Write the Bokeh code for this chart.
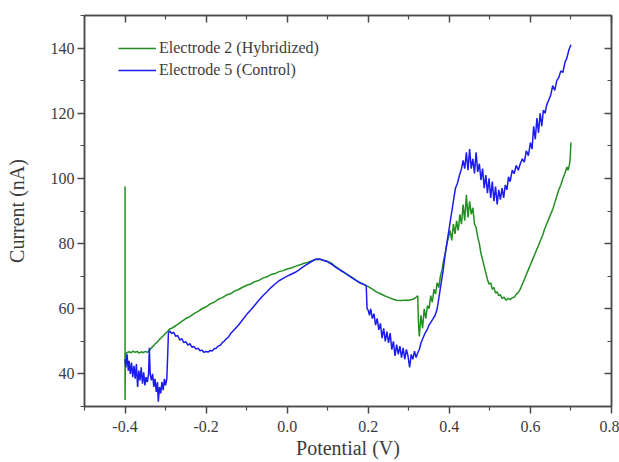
from bokeh.plotting import figure
from bokeh.models import (Range1d, LinearAxis, FixedTicker, PrintfTickFormatter,
                          Legend, LegendItem)
from bokeh.embed import file_html
from bokeh.resources import INLINE

# ---------------- data ----------------
x_ticks = [-0.4, -0.2, 0.0, 0.2, 0.4, 0.6, 0.8]
x_minor = [-0.5, -0.3, -0.1, 0.1, 0.3, 0.5, 0.7]
y_ticks = [40, 60, 80, 100, 120, 140]
y_minor = [30, 50, 70, 90, 110, 130, 150]

series_names = ["Electrode 2 (Hybridized)", "Electrode 5 (Control)"]

e2_x = [-0.400, -0.400, -0.399, -0.396,
        -0.39, -0.385, -0.38, -0.375, -0.37, -0.365, -0.36, -0.355, -0.35, -0.345,
        -0.34, -0.335, -0.33, -0.325, -0.32, -0.315, -0.31, -0.305, -0.3, -0.295,
        -0.29, -0.285, -0.28, -0.27, -0.26, -0.25, -0.24, -0.23, -0.22, -0.21,
        -0.2, -0.19, -0.18, -0.17, -0.16, -0.15, -0.14, -0.13, -0.12, -0.11,
        -0.1, -0.09, -0.08, -0.07, -0.06, -0.05, -0.04, -0.03, -0.02, -0.01,
        0.0, 0.01, 0.02, 0.03, 0.04, 0.05, 0.06, 0.07, 0.08, 0.09,
        0.1, 0.11, 0.12, 0.13, 0.14, 0.15, 0.16, 0.17, 0.18, 0.19,
        0.2, 0.21, 0.22, 0.23, 0.24, 0.25, 0.26, 0.27, 0.28, 0.29,
        0.3, 0.31, 0.318, 0.322, 0.324, 0.326, 0.33, 0.334, 0.338, 0.342,
        0.346, 0.35, 0.354, 0.358, 0.362, 0.366, 0.37, 0.374, 0.378, 0.382,
        0.386, 0.39, 0.394, 0.398, 0.402, 0.406, 0.41, 0.414, 0.418, 0.422,
        0.426, 0.43, 0.434, 0.438, 0.442, 0.446, 0.45, 0.454, 0.458, 0.462,
        0.466, 0.47, 0.474, 0.478, 0.482, 0.486, 0.49, 0.494, 0.498, 0.502,
        0.506, 0.51, 0.514, 0.518, 0.522, 0.526, 0.53, 0.535, 0.54, 0.545,
        0.55, 0.555, 0.56, 0.565, 0.57, 0.575, 0.58, 0.585, 0.59, 0.595,
        0.6, 0.605, 0.61, 0.615, 0.62, 0.625, 0.63, 0.635, 0.64, 0.645,
        0.65, 0.655, 0.66, 0.665, 0.67, 0.675, 0.68, 0.685, 0.69, 0.693,
        0.696, 0.698, 0.7]
e2_y = [97.5, 32.0, 45.0, 46.5,
        46.8, 46.5, 47.0, 46.6, 46.9, 46.4, 46.8, 46.5, 46.9, 46.6,
        47.2, 48.0, 48.6, 49.3, 49.8, 50.6, 51.2, 51.8, 52.5, 53.0,
        53.8, 54.0, 54.4, 55.2, 56.1, 57.0, 57.6, 58.5, 59.2, 60.0,
        60.6, 61.5, 62.0, 62.9, 63.4, 64.2, 64.6, 65.4, 65.9, 66.6,
        67.2, 67.6, 68.3, 68.7, 69.4, 69.8, 70.5, 70.8, 71.4, 71.7,
        72.2, 72.5, 73.0, 73.4, 73.9, 74.2, 74.7, 75.1, 75.2, 74.9,
        74.5, 73.9, 72.9, 72.0, 71.2, 70.4, 69.6, 68.7, 68.0, 67.4,
        66.8, 66.0, 65.2, 64.6, 64.0, 63.5, 63.0, 62.6, 62.5, 62.6,
        62.6, 62.9, 63.5, 64.0, 55.0, 51.5, 58.0, 54.0, 60.0, 57.0,
        61.0, 60.0, 64.0, 62.0, 66.0, 64.5, 68.0, 66.5, 70.0, 72.0,
        75.0, 77.0, 80.0, 82.0, 84.0, 81.0, 86.0, 83.0, 87.0, 84.0,
        89.0, 86.0, 92.0, 87.0, 95.0, 88.0, 93.0, 89.0, 91.0, 86.0,
        85.0, 82.0, 80.0, 77.0, 75.0, 73.0, 71.0, 69.0, 67.5, 68.0,
        66.0, 66.5, 64.8, 65.2, 64.0, 64.3, 63.2, 63.6, 62.6, 63.2,
        62.8, 63.4, 63.5, 64.4, 65.0, 66.0, 67.5, 69.0, 70.5, 72.0,
        73.5, 75.0, 76.5, 78.0, 79.5, 81.0, 82.5, 84.5, 86.0, 87.5,
        89.0, 90.5, 92.5, 94.5, 96.5, 98.0, 100.0, 101.5, 103.5, 102.5,
        104.0, 106.0, 111.0]

e5_x = [-0.4, -0.398, -0.395, -0.392, -0.39, -0.387, -0.384, -0.381, -0.378, -0.375,
        -0.372, -0.369, -0.366, -0.363, -0.36, -0.357, -0.354, -0.351, -0.348, -0.345,
        -0.342, -0.34, -0.338, -0.335, -0.332, -0.329, -0.326, -0.323, -0.32, -0.318,
        -0.315, -0.312, -0.309, -0.306, -0.303, -0.3, -0.297, -0.295, -0.293, -0.29,
        -0.285, -0.28, -0.275, -0.27, -0.265, -0.26, -0.255, -0.25, -0.245, -0.24,
        -0.235, -0.23, -0.225, -0.22, -0.215, -0.21, -0.205, -0.2, -0.195, -0.19,
        -0.185, -0.18, -0.175, -0.17, -0.165, -0.16, -0.155, -0.15, -0.145, -0.14,
        -0.13, -0.12, -0.11, -0.1, -0.09, -0.08, -0.07, -0.06, -0.05, -0.04,
        -0.03, -0.02, -0.01, 0.0, 0.01, 0.02, 0.03, 0.04, 0.05, 0.06,
        0.07, 0.08, 0.09, 0.1, 0.11, 0.12, 0.13, 0.14, 0.15, 0.16,
        0.17, 0.18, 0.19, 0.195, 0.197, 0.2, 0.203, 0.206, 0.21, 0.214,
        0.218, 0.222, 0.226, 0.23, 0.234, 0.238, 0.242, 0.246, 0.25, 0.254,
        0.258, 0.262, 0.266, 0.27, 0.274, 0.278, 0.282, 0.286, 0.29, 0.294,
        0.298, 0.302, 0.306, 0.31, 0.314, 0.318, 0.322, 0.326, 0.33, 0.335,
        0.34, 0.345, 0.35, 0.355, 0.36, 0.365, 0.37, 0.375, 0.38, 0.385,
        0.39, 0.395, 0.4, 0.405, 0.41, 0.415, 0.42, 0.425, 0.43, 0.434,
        0.438, 0.442, 0.446, 0.45, 0.454, 0.458, 0.462, 0.466, 0.47, 0.474,
        0.478, 0.482, 0.486, 0.49, 0.494, 0.498, 0.502, 0.506, 0.51, 0.514,
        0.518, 0.522, 0.526, 0.53, 0.534, 0.538, 0.542, 0.546, 0.55, 0.555,
        0.56, 0.565, 0.57, 0.575, 0.58, 0.585, 0.59, 0.595, 0.6, 0.604,
        0.608, 0.612, 0.616, 0.62, 0.624, 0.628, 0.632, 0.636, 0.64, 0.645,
        0.65, 0.655, 0.66, 0.665, 0.67, 0.675, 0.68, 0.685, 0.69, 0.695,
        0.7]
e5_y = [44.5, 42.0, 46.0, 41.0, 44.0, 40.0, 43.5, 39.0, 42.5, 38.5,
        43.0, 36.0, 41.0, 38.0, 42.0, 37.0, 40.5, 36.5, 39.0, 37.5,
        40.0, 48.0, 40.0, 38.0, 40.0, 36.0, 38.5, 34.5, 37.5, 31.5,
        36.0, 34.0, 37.5, 35.0, 38.5, 36.5, 38.5, 45.0, 52.5, 53.2,
        52.4, 52.8, 51.5, 51.8, 50.4, 50.8, 49.6, 49.9, 48.8, 49.3,
        48.2, 48.4, 47.6, 47.9, 47.1, 47.3, 46.6, 46.9, 46.7, 47.2,
        47.0, 47.7, 47.9, 48.6, 48.8, 49.6, 50.1, 50.8, 51.3, 52.3,
        53.6, 55.0, 56.6, 58.2, 59.6, 61.1, 62.6, 64.0, 65.2, 66.5,
        67.6, 68.6, 69.3, 70.0, 70.6, 71.2, 72.0, 72.9, 73.7, 74.5,
        75.2, 75.3, 74.8, 74.4, 73.6, 72.7, 71.9, 71.2, 70.3, 69.5,
        68.7, 67.9, 67.4, 67.0, 60.0, 59.5, 58.0, 60.0, 57.0, 58.5,
        55.0, 57.0, 53.5, 55.5, 51.0, 54.0, 50.0, 53.0, 49.5, 52.5,
        47.5, 50.0, 45.5, 49.0, 46.0, 48.5, 45.0, 48.0, 44.5, 47.5,
        45.5, 42.0, 46.0, 44.5, 47.0, 45.0, 46.5, 47.5, 49.5, 51.0,
        52.5, 53.5, 55.0, 56.0, 57.0, 58.0, 60.0, 64.0, 68.0, 72.0,
        77.0, 81.0, 85.0, 89.0, 93.0, 97.0, 98.5, 101.0, 103.0, 105.5,
        103.0, 108.0, 102.5, 109.0, 103.0, 106.0, 101.5, 108.0, 102.0, 104.5,
        99.5, 103.0, 97.0, 101.0, 95.5, 100.0, 94.0, 99.0, 93.0, 97.5,
        92.0, 96.5, 93.5, 97.0, 94.0, 98.0, 96.5, 100.5, 99.0, 102.5,
        101.5, 104.0, 102.5, 104.5, 106.0, 105.0, 108.5, 107.0, 111.0, 109.0,
        116.0, 112.0, 118.5, 114.0, 120.0, 116.0, 121.0, 120.0, 122.5, 124.0,
        125.5, 128.5, 127.0, 130.0, 131.0, 133.0, 132.5, 135.5, 137.0, 139.5,
        141.0]

# ---------------- styling ----------------
FONT = "Liberation Serif"
TXT = "#3c3c3c"
AXC = "#4a4a4a"
GREEN = "#238f23"
BLUE = "#1c1cf0"

p = figure(width=619, height=462, output_backend="svg", toolbar_location=None,
           x_range=Range1d(-0.5, 0.8), y_range=Range1d(30, 150),
           min_border_left=84, min_border_right=8, min_border_top=15,
           min_border_bottom=56)
p.xgrid.visible = False
p.ygrid.visible = False
p.outline_line_color = AXC
p.outline_line_width = 1.5

r2 = p.line(e2_x, e2_y, line_color=GREEN, line_width=1.5)
r5 = p.line(e5_x, e5_y, line_color=BLUE, line_width=1.5)

def style(ax, labels=True, inward=False):
    ax.axis_line_color = AXC
    ax.axis_line_width = 1.5
    ax.major_tick_line_color = AXC
    ax.minor_tick_line_color = AXC
    ax.major_tick_line_width = 1.5
    ax.minor_tick_line_width = 1.2
    if inward:
        ax.major_tick_in, ax.major_tick_out = 7, 0
        ax.minor_tick_in, ax.minor_tick_out = 4, 0
    else:
        ax.major_tick_in, ax.major_tick_out = 0, 7
        ax.minor_tick_in, ax.minor_tick_out = 0, 4
    ax.major_label_text_font = FONT
    ax.major_label_text_font_size = "16px"
    ax.major_label_text_color = TXT
    ax.axis_label_text_font = FONT
    ax.axis_label_text_font_size = "20px"
    ax.axis_label_text_font_style = "normal"
    ax.axis_label_text_color = TXT
    if not labels:
        ax.major_label_text_alpha = 0
        ax.major_label_text_font_size = "1px"
        ax.major_label_standoff = 0

xt = FixedTicker(ticks=x_ticks, minor_ticks=x_minor)
yt = FixedTicker(ticks=y_ticks, minor_ticks=y_minor)

xa = p.xaxis[0]
xa.ticker = xt
xa.formatter = PrintfTickFormatter(format="%.1f")
xa.axis_label = "Potential (V)"
style(xa)
xa.major_label_standoff = 7
xa.axis_label_standoff = 2

ya = p.yaxis[0]
ya.ticker = yt
ya.axis_label = "Current (nA)"
style(ya)
ya.major_label_standoff = 3
ya.axis_label_standoff = 20

top = LinearAxis(ticker=FixedTicker(ticks=x_ticks, minor_ticks=x_minor))
style(top, labels=False, inward=True)
p.add_layout(top, "above")
right = LinearAxis(ticker=FixedTicker(ticks=y_ticks, minor_ticks=y_minor))
style(right, labels=False, inward=True)
p.add_layout(right, "right")

legend = Legend(items=[LegendItem(label=series_names[0], renderers=[r2]),
                       LegendItem(label=series_names[1], renderers=[r5])],
                location=(34, 326), padding=0, margin=0, spacing=2,
                glyph_width=38, glyph_height=20, label_height=20,
                label_standoff=3, border_line_alpha=0, background_fill_alpha=0,
                label_text_font=FONT, label_text_font_size="16px",
                label_text_color=TXT)
p.add_layout(legend, "center")

open("out.html", "w").write(file_html(p, INLINE))
